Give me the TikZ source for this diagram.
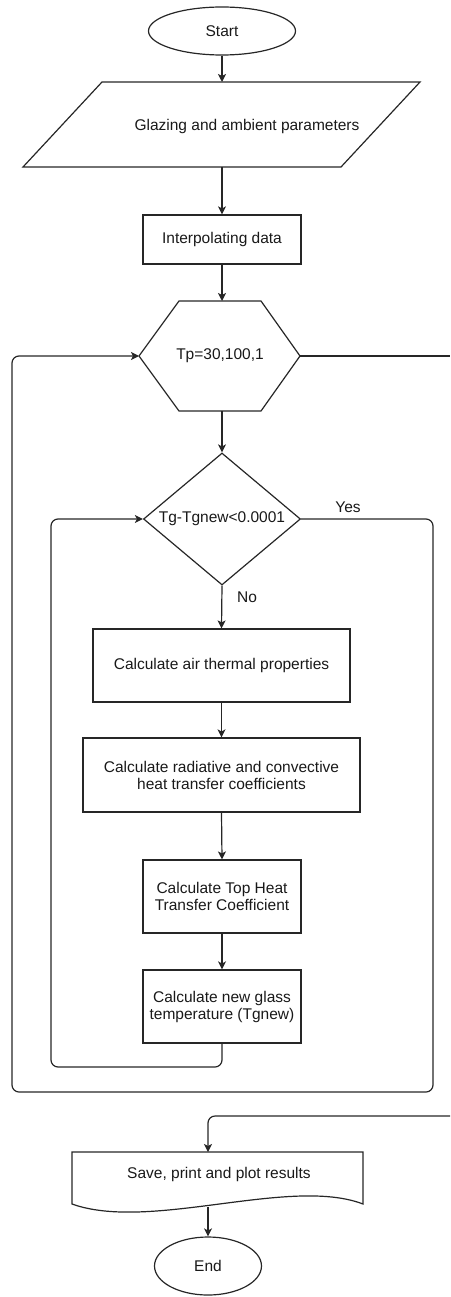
\documentclass[tikz,border=0pt]{standalone}
\usepackage{fontspec}
\setmainfont{Liberation Sans}
\usetikzlibrary{shapes.geometric,arrows.meta}
\begin{document}
\begin{tikzpicture}[x=1pt,y=-1pt,
  every node/.style={font=\fontsize{15.5}{17}\selectfont, text=black!90},
  ln/.style={line width=1.2pt, draw=black!85},
  arr/.style={ln, -{Stealth[length=8pt,width=8pt,inset=2pt]}},
  loop/.style={arr, rounded corners=7pt},
  procbox/.style={ln, draw, rectangle, inner sep=0pt, align=center},
  term/.style={ln, draw, ellipse, inner sep=0pt},
  txt/.style={inner sep=0pt, align=center}]
\useasboundingbox (0,0) rectangle (450,1297);

% Start
\node[term, minimum width=147pt, minimum height=48pt] (start) at (222,31) {Start};

% Parallelogram input
\draw[ln] (102,82) -- (420,82) -- (341,167) -- (23,167) -- cycle;
\coordinate (ptop) at (222,82);
\coordinate (pbot) at (222,167);
\node[txt] (params) at (247,126) {Glazing and ambient parameters};

% Interpolating
\node[procbox, minimum width=158pt, minimum height=49pt] (interp) at (222,239.5) {Interpolating data};

% Hexagon loop
\draw[ln] (139,356) -- (179,301) -- (261,301) -- (300,356) -- (261,411) -- (179,411) -- cycle;
\coordinate (hexT) at (222,301);
\coordinate (hexB) at (222,411);
\coordinate (hexL) at (139,356);
\coordinate (hexR) at (300,356);
\node[txt] (hex) at (220,356) {Tp=30,100,1};

% Decision
\node[ln, draw, diamond, minimum width=157pt, minimum height=132pt, inner sep=0pt] (dec) at (222,519) {};
\node[txt] (dectext) at (222,519) {Tg-Tgnew<0.0001};

% Process boxes
\node[procbox, minimum width=257pt, minimum height=73pt] (air) at (221.5,665.5) {Calculate air thermal properties};
\node[procbox, minimum width=277pt, minimum height=74pt] (rad) at (221.5,775) {Calculate radiative and convective\\heat transfer coefficients};
\node[procbox, minimum width=158pt, minimum height=73pt] (top) at (222,896.5) {Calculate Top Heat\\Transfer Coefficient};
\node[procbox, minimum width=158pt, minimum height=73pt] (tg) at (222,1006.5) {Calculate new glass\\temperature (Tgnew)};

% Document output
\draw[ln] (72,1152) -- (363,1152) -- (363,1204)
  .. controls (290,1176) and (150,1232) .. (72,1204) -- cycle;
\coordinate (saveT) at (208,1152);
\coordinate (saveB) at (208,1207);
\node[txt] (save) at (219,1174) {Save, print and plot results};

% End
\node[term, minimum width=107pt, minimum height=58pt] (end) at (208,1266) {End};

% Straight arrows
\draw[arr] (start.south) -- (ptop);
\draw[arr] (pbot) -- (interp.north);
\draw[arr] (interp.south) -- (hexT);
\draw[arr] (hexB) -- (dec.north);
\draw[arr] (dec.south) -- (air.north);
\draw[arr] (air.south) -- (rad.north);
\draw[arr] (rad.south) -- (top.north);
\draw[arr] (top.south) -- (tg.north);
\draw[arr] (saveB) -- (end.north);

% Labels
\node[txt] (yes) at (348,507) {Yes};
\node[txt] (no) at (247,597) {No};

% Loops
\draw[loop] (dec.east) -- (433,519) -- (433,1092) -- (12,1092) -- (12,356) -- (hexL);
\draw[loop] (tg.south) -- (222,1067) -- (51,1067) -- (51,519) -- (dec.west);
\coordinate (edgeA) at (450,356);
\coordinate (edgeB) at (450,1116);
\draw[ln] (hexR) -- (edgeA);
\draw[loop] (edgeB) -- (208,1116) -- (saveT);
\end{tikzpicture}
\end{document}
